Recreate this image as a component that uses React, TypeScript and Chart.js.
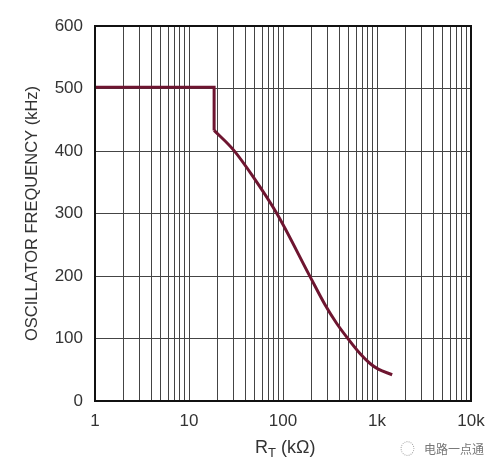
import React, { useEffect, useRef } from "react";
import { Chart, registerables } from "chart.js";

Chart.register(...registerables);

const stepRt = [1, 18.5, 18.5];
const stepFreq = [502, 502, 433];
const curveRt = [18.5, 30, 48, 86, 194, 280, 373, 495, 659, 843, 1032, 1450];
const curveFreq = [433, 401, 359, 300, 199, 154, 124, 99, 76, 60, 51, 42];
const xTickValues = [
  1, 2, 3, 4, 5, 6, 7, 8, 9,
  10, 20, 30, 40, 50, 60, 70, 80, 90,
  100, 200, 300, 400, 500, 600, 700, 800, 900,
  1000, 2000, 3000, 4000, 5000, 6000, 7000, 8000, 9000,
  10000,
];
const xTickLabels: Record<number, string> = { 1: "1", 10: "10", 100: "100", 1000: "1k", 10000: "10k" };
const yTickValues = [0, 100, 200, 300, 400, 500, 600];

const FONT = "'Liberation Sans Narrow', 'Arial Narrow', 'Liberation Sans', Arial, sans-serif";
const LINE = "#6e1530";

export default function App() {
  const ref = useRef<HTMLCanvasElement | null>(null);

  useEffect(() => {
    document.body.style.margin = "0";
    const canvas = ref.current;
    if (!canvas) return;
    const frame = {
      id: "frame",
      afterDraw(chart: any) {
        const { ctx, chartArea } = chart;
        ctx.save();
        ctx.strokeStyle = "#111";
        ctx.lineWidth = 2;
        ctx.strokeRect(chartArea.left, chartArea.top, chartArea.right - chartArea.left, chartArea.bottom - chartArea.top);
        ctx.restore();
      },
    };
    const chart = new Chart(canvas, {
      type: "line",
      data: {
        datasets: [
          {
            data: stepRt.map((x, i) => ({ x, y: stepFreq[i] })),
            borderColor: LINE,
            borderWidth: 3,
            pointRadius: 0,
            tension: 0,
            fill: false,
          },
          {
            data: curveRt.map((x, i) => ({ x, y: curveFreq[i] })),
            borderColor: LINE,
            borderWidth: 3,
            pointRadius: 0,
            cubicInterpolationMode: "monotone",
            fill: false,
          },
        ],
      },
      plugins: [frame],
      options: {
        animation: false,
        responsive: false,
        maintainAspectRatio: false,
        layout: { padding: { left: 0, right: 29, top: 26, bottom: 0 } },
        plugins: { legend: { display: false }, tooltip: { enabled: false } },
        scales: {
          x: {
            type: "logarithmic",
            min: 1,
            max: 10000,
            afterBuildTicks: (scale: any) => {
              scale.ticks = xTickValues.map((v) => ({ value: v, major: !!xTickLabels[v] }));
            },
            afterFit: (scale: any) => {
              scale.height = 68;
            },
            ticks: {
              autoSkip: false,
              maxRotation: 0,
              padding: 10,
              color: "#333",
              font: { family: FONT, size: 17 },
              callback: (v: any) => xTickLabels[Number(v)] ?? "",
            },
            grid: { color: "#444", lineWidth: 1, drawTicks: false },
            border: { color: "#111", width: 2 },
          },
          y: {
            min: 0,
            max: 600,
            afterBuildTicks: (scale: any) => {
              scale.ticks = yTickValues.map((v) => ({ value: v }));
            },
            afterFit: (scale: any) => {
              scale.width = 95;
            },
            ticks: {
              padding: 12,
              color: "#333",
              font: { family: FONT, size: 17 },
            },
            grid: { color: "#444", lineWidth: 1, drawTicks: false },
            border: { color: "#111", width: 2 },
            title: {
              display: true,
              text: "OSCILLATOR FREQUENCY (kHz)",
              color: "#333",
              font: { family: FONT, size: 16.5 },
              padding: { top: 23, bottom: 0 },
            },
          },
        },
      },
    } as any);
    return () => chart.destroy();
  }, []);

  return (
    <div style={{ position: "relative", width: 500, height: 469, background: "#fff" }}>
      <canvas ref={ref} width={500} height={469} style={{ display: "block" }} />
      <div
        style={{
          position: "absolute",
          left: 255,
          top: 435,
          fontFamily: FONT,
          fontSize: 18,
          color: "#333",
          whiteSpace: "nowrap",
          lineHeight: "24px",
        }}
      >
        R<sub style={{ fontSize: 13, verticalAlign: "-4px" }}>T</sub> (kΩ)
      </div>
      <div
        style={{
          position: "absolute",
          left: 400,
          top: 440,
          fontFamily: "'Noto Sans CJK SC', sans-serif",
          fontSize: 12,
          color: "#777",
          whiteSpace: "nowrap",
          lineHeight: "16px",
        }}
      >
        <span style={{ color: "#aaa", fontSize: 15, marginRight: 9 }}>◌</span>电路一点通
      </div>
    </div>
  );
}
